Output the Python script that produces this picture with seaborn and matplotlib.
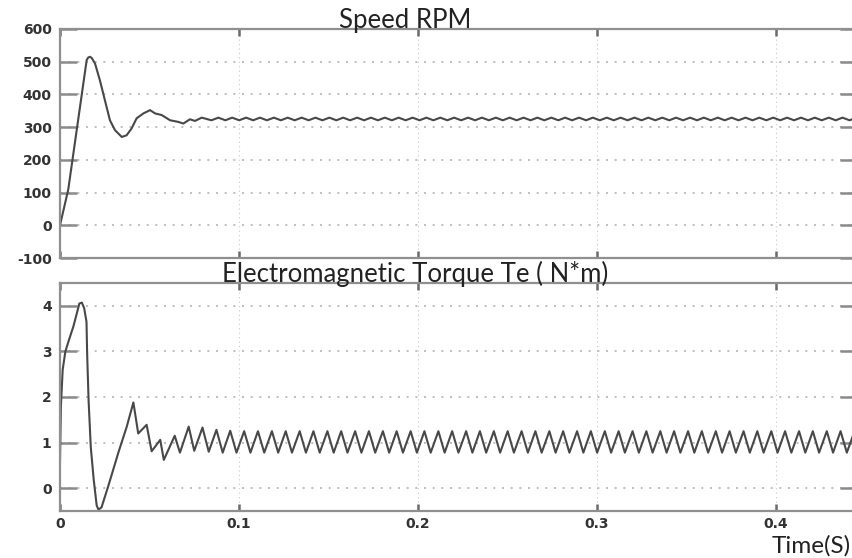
import matplotlib
matplotlib.use("Agg")
import matplotlib.pyplot as plt
import seaborn as sns
import pandas as pd

# ---------------- data ----------------
# Rotor speed: start-up transient (s, RPM)
speed_t = [0.0, 0.0046, 0.0149, 0.0158, 0.0168, 0.0178, 0.0196, 0.0223, 0.0251, 0.0279,
           0.0307, 0.0345, 0.0372, 0.0400, 0.0428, 0.0466, 0.0503, 0.0531, 0.0568,
           0.0615, 0.0661, 0.0689, 0.0726, 0.0754, 0.0792]
speed_v = [0, 109, 505, 513, 515, 511, 494, 443, 382, 321,
           291, 270, 275, 296, 327, 342, 352, 342, 337,
           321, 316, 311, 324, 319, 329]

# Rotor speed: steady-state ripple, troughs then peaks of each cycle
speed_trough_t = [0.0846, 0.0924, 0.1001, 0.1079, 0.1156, 0.1234, 0.1311, 0.1389, 0.1466,
                  0.1544, 0.1621, 0.1699, 0.1776, 0.1854, 0.1931, 0.2009, 0.2086, 0.2164,
                  0.2241, 0.2319, 0.2396, 0.2474, 0.2551, 0.2629, 0.2706, 0.2784, 0.2861,
                  0.2939, 0.3016, 0.3094, 0.3171, 0.3249, 0.3326, 0.3404, 0.3481, 0.3559,
                  0.3636, 0.3714, 0.3791, 0.3869, 0.3946, 0.4024, 0.4101, 0.4179, 0.4256,
                  0.4334, 0.4411]
speed_peak_t = [0.0885, 0.0962, 0.1040, 0.1117, 0.1195, 0.1272, 0.1350, 0.1427, 0.1505,
                0.1582, 0.1660, 0.1737, 0.1815, 0.1892, 0.1970, 0.2047, 0.2125, 0.2202,
                0.2280, 0.2357, 0.2435, 0.2512, 0.2590, 0.2667, 0.2745, 0.2822, 0.2900,
                0.2977, 0.3055, 0.3132, 0.3210, 0.3287, 0.3365, 0.3442, 0.3520, 0.3597,
                0.3675, 0.3752, 0.3830, 0.3907, 0.3985, 0.4062, 0.4140, 0.4217, 0.4295,
                0.4372, 0.4450]
speed_trough_v = [321] * len(speed_trough_t)
speed_peak_v = [329] * len(speed_peak_t)

# Electromagnetic torque: start-up transient (s, N*m)
torque_t = [0.0, 0.0005, 0.0015, 0.0030, 0.0050, 0.0075, 0.0095, 0.0108, 0.0122, 0.0135,
            0.0148, 0.0152, 0.0160, 0.0172, 0.0188, 0.0205, 0.0215, 0.0232, 0.0270,
            0.0326, 0.0373, 0.0410, 0.0437]
torque_v = [0.6, 1.8, 2.6, 3.0, 3.25, 3.55, 3.85, 4.05, 4.07, 3.95,
            3.65, 2.9, 1.9, 0.9, 0.2, -0.38, -0.47, -0.42, 0.05,
            0.78, 1.35, 1.88, 1.2]

# Electromagnetic torque: ripple peaks followed by troughs
torque_peak_t = [0.0484, 0.0560, 0.0641, 0.0719, 0.0796, 0.0874, 0.0951, 0.1029, 0.1106,
                 0.1184, 0.1261, 0.1339, 0.1416, 0.1494, 0.1571, 0.1649, 0.1726, 0.1804,
                 0.1881, 0.1959, 0.2036, 0.2114, 0.2191, 0.2269, 0.2346, 0.2424, 0.2501,
                 0.2579, 0.2656, 0.2734, 0.2811, 0.2889, 0.2966, 0.3044, 0.3121, 0.3199,
                 0.3276, 0.3354, 0.3431, 0.3509, 0.3586, 0.3664, 0.3741, 0.3819, 0.3896,
                 0.3974, 0.4051, 0.4129, 0.4206, 0.4284, 0.4361, 0.4439]
torque_peak_v = [1.39, 1.06, 1.15, 1.35, 1.33, 1.28, 1.26] + [1.25] * 45
torque_trough_t = [0.0512, 0.0580, 0.0670, 0.0750, 0.0831, 0.0909, 0.0986, 0.1064, 0.1141,
                   0.1219, 0.1296, 0.1374, 0.1451, 0.1529, 0.1606, 0.1684, 0.1761, 0.1839,
                   0.1916, 0.1994, 0.2071, 0.2149, 0.2226, 0.2304, 0.2381, 0.2459, 0.2536,
                   0.2614, 0.2691, 0.2769, 0.2846, 0.2924, 0.3001, 0.3079, 0.3156, 0.3234,
                   0.3311, 0.3389, 0.3466, 0.3544, 0.3621, 0.3699, 0.3776, 0.3854, 0.3931,
                   0.4009, 0.4086, 0.4164, 0.4241, 0.4319, 0.4396, 0.4474]
torque_trough_v = [0.81, 0.62, 0.78, 0.82, 0.80] + [0.78] * 47

speed_ticks = [-100, 0, 100, 200, 300, 400, 500, 600]
torque_ticks = [0, 1, 2, 3, 4]
time_ticks = [0, 0.1, 0.2, 0.3, 0.4]
time_ticklabels = ["0", "0.1", "0.2", "0.3", "0.4"]

# ---------------- assemble series ----------------
def interleave(a, b):
    out = []
    for x, y in zip(a, b):
        out += [x, y]
    return out

speed_df = pd.DataFrame({
    "t": speed_t + interleave(speed_trough_t, speed_peak_t),
    "v": speed_v + interleave(speed_trough_v, speed_peak_v),
})
torque_df = pd.DataFrame({
    "t": torque_t + interleave(torque_peak_t, torque_trough_t),
    "v": torque_v + interleave(torque_peak_v, torque_trough_v),
})

# ---------------- style ----------------
sns.set_style("white")
plt.rcParams["axes.unicode_minus"] = False
plt.rcParams["font.family"] = ["DejaVu Sans"]

W, H = 852, 558
fig = plt.figure(figsize=(W / 100, H / 100), dpi=100)
fig.patch.set_facecolor("white")

def px_axes(left, top, right, bottom):
    return fig.add_axes([left / W, 1 - bottom / H, (right - left) / W, (bottom - top) / H])

ax1 = px_axes(60, 29, 856.5, 258)
ax2 = px_axes(60, 283, 856.5, 511)

line_color = "#484848"
spine_color = "#8f8f8f"
grid_color = "#b4b4b4"

sns.lineplot(data=speed_df, x="t", y="v", ax=ax1, color=line_color, linewidth=1.5,
             estimator=None, sort=False)
sns.lineplot(data=torque_df, x="t", y="v", ax=ax2, color=line_color, linewidth=1.5,
             estimator=None, sort=False)

for ax, yt, ylim in [(ax1, speed_ticks, (-100, 600)), (ax2, torque_ticks, (-0.5, 4.5))]:
    ax.set_xlim(0, 0.445)
    ax.set_ylim(*ylim)
    ax.set_yticks(yt)
    ax.set_xticks(time_ticks)
    ax.set_xlabel("")
    ax.set_ylabel("")
    ax.yaxis.grid(True, color=grid_color, linestyle=(0, (1.2, 4.0)), linewidth=1.2)
    ax.xaxis.grid(True, color="#c8c8c8", linestyle=(0, (1.0, 3.0)), linewidth=0.8)
    ax.set_axisbelow(True)
    for s in ax.spines.values():
        s.set_color(spine_color)
        s.set_linewidth(1.6)
        s.set_visible(True)
    ax.tick_params(axis="y", which="major", direction="in", length=12, width=1.8,
                   color="#8a8a8a", left=True, right=True, pad=6,
                   labelsize=10, labelcolor="#333333")
    ax.tick_params(axis="x", which="major", direction="in", length=5, width=1.8,
                   color="#6a6a6a", top=True, bottom=True, pad=4,
                   labelsize=10, labelcolor="#333333")
    for lbl in ax.get_yticklabels() + ax.get_xticklabels():
        lbl.set_fontweight("bold")

ax1.set_xticklabels([])
ax2.set_xticklabels(time_ticklabels, fontweight="bold")

title_font = ["Lato", "DejaVu Sans"]
fig.text(405 / W, 1 - 28 / H, "Speed RPM", ha="center", va="baseline",
         fontsize=18.5, family=title_font, color="#222222")
fig.text(415 / W, 1 - 282 / H, "Electromagnetic Torque Te ( N*m)", ha="center",
         va="baseline", fontsize=18.5, family=title_font, color="#222222")
fig.text(851 / W, 1 - 553 / H, "Time(S)", ha="right", va="baseline",
         fontsize=17.5, family=title_font, color="#222222")

fig.savefig("out.png", dpi=100)
